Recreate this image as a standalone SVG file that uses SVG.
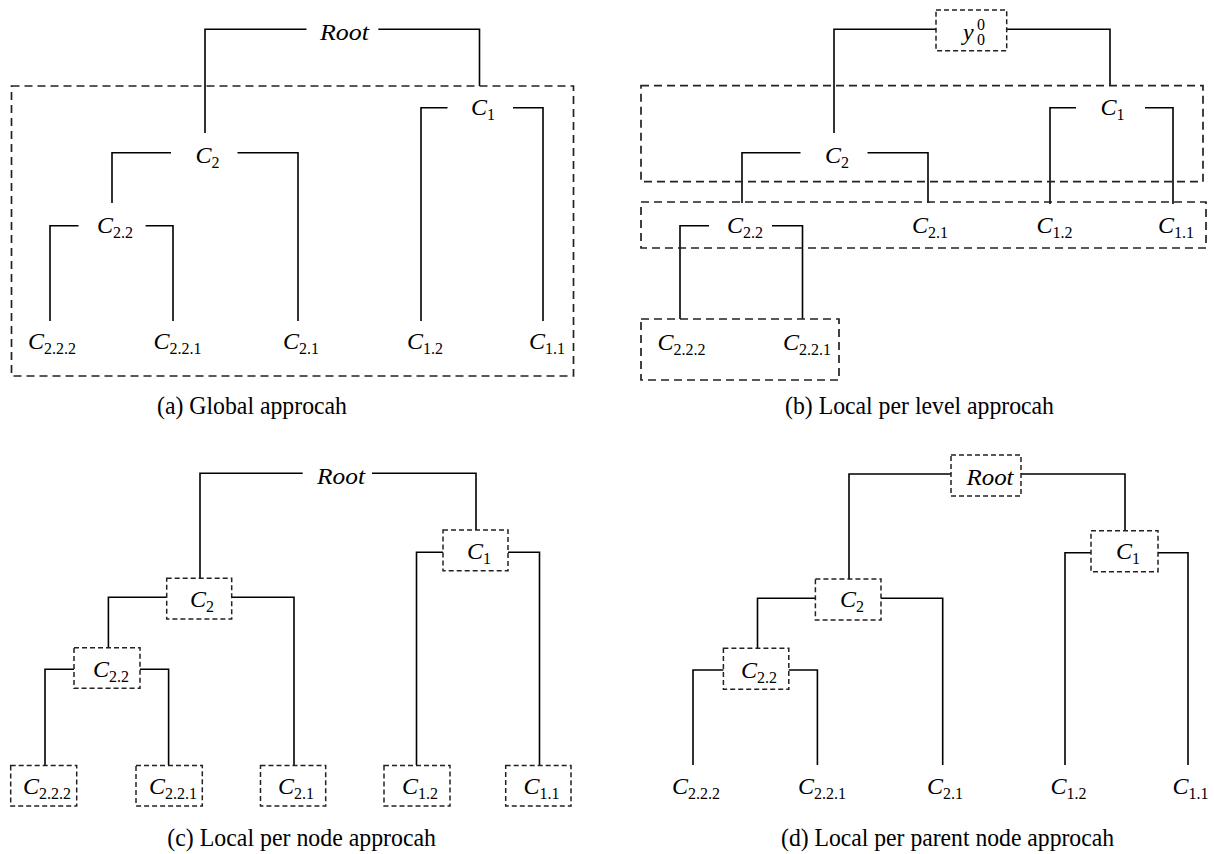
<svg xmlns="http://www.w3.org/2000/svg" width="1214" height="854" viewBox="0 0 1214 854">
<style>
.ln{stroke:#000;stroke-width:1.6;fill:none}
.bb{stroke:#222;stroke-width:1.7;stroke-dasharray:8 5;fill:none}
.nb{stroke:#222;stroke-width:1.5;stroke-dasharray:5 3;fill:none}
.m{font-family:"Liberation Serif",serif;font-size:24px;text-anchor:middle;fill:#000}
.i{font-style:italic}
.s{font-size:16px;font-style:normal}
.r{font-family:"Liberation Serif",serif;font-size:24px;font-style:italic;text-anchor:middle;fill:#000}
.cap{font-family:"Liberation Serif",serif;font-size:26px;text-anchor:middle;fill:#000}
</style>
<rect width="1214" height="854" fill="#fff"/>

<!-- Panel (a) -->
<g id="panel-a">
  <g id="a-connectors">
    <path class="ln" d="M205,133 V29.3 H306.5 M378.3,29.3 H479.5 V86"/>
    <path class="ln" d="M421,321 V107.7 H447.5 M513,107.7 H543 V321"/>
    <path class="ln" d="M112,203 V152.7 H171 M237.5,152.7 H298 V321"/>
    <path class="ln" d="M50,321 V225.7 H78.5 M145.6,225.7 H173 V321"/>
  </g>
  <g id="a-group"><rect class="bb" x="11.5" y="86" width="562" height="290"/></g>
  <g id="a-root"><text class="r" x="344.5" y="39.5" textLength="49" lengthAdjust="spacingAndGlyphs">Root</text></g>
  <g id="a-c1"><text class="m" x="483" y="115"><tspan class="i">C</tspan><tspan class="s" dy="5">1</tspan></text></g>
  <g id="a-c2"><text class="m" x="207.5" y="163"><tspan class="i">C</tspan><tspan class="s" dy="5">2</tspan></text></g>
  <g id="a-c22"><text class="m" x="115" y="233"><tspan class="i">C</tspan><tspan class="s" dy="5">2.2</tspan></text></g>
  <g id="a-c222"><text class="m" x="52" y="349"><tspan class="i">C</tspan><tspan class="s" dy="5">2.2.2</tspan></text></g>
  <g id="a-c221"><text class="m" x="177.5" y="349"><tspan class="i">C</tspan><tspan class="s" dy="5">2.2.1</tspan></text></g>
  <g id="a-c21"><text class="m" x="301" y="349"><tspan class="i">C</tspan><tspan class="s" dy="5">2.1</tspan></text></g>
  <g id="a-c12"><text class="m" x="425" y="349"><tspan class="i">C</tspan><tspan class="s" dy="5">1.2</tspan></text></g>
  <g id="a-c11"><text class="m" x="547" y="349"><tspan class="i">C</tspan><tspan class="s" dy="5">1.1</tspan></text></g>
  <text class="cap" x="252" y="414" textLength="190" lengthAdjust="spacingAndGlyphs">(a) Global approcah</text>
</g>

<!-- Panel (b) -->
<g id="panel-b">
  <g id="b-connectors">
    <path class="ln" d="M834,133 V29.3 H936 M1006.7,29.3 H1110 V85.7"/>
    <path class="ln" d="M1050,204 V107.7 H1076 M1145,107.7 H1173 V204"/>
    <path class="ln" d="M742,203 V152.7 H800.5 M867.5,152.7 H928 V203"/>
    <path class="ln" d="M680,319 V225.7 H709 M772,225.7 H802.5 V319"/>
  </g>
  <g id="b-level1"><rect class="bb" x="641" y="85.7" width="562" height="96"/></g>
  <g id="b-level2"><rect class="bb" x="641" y="202" width="565" height="46"/></g>
  <g id="b-level3"><rect class="bb" x="641" y="319" width="198" height="61"/></g>
  <g id="b-root">
    <rect class="nb" x="936" y="10" width="70.7" height="40.7"/>
    <text class="m" x="963" y="40" style="text-anchor:start"><tspan class="i">y</tspan><tspan class="s" x="977" y="29.5">0</tspan><tspan class="s" x="977" y="45">0</tspan></text>
  </g>
  <g id="b-c1"><text class="m" x="1112.5" y="115"><tspan class="i">C</tspan><tspan class="s" dy="5">1</tspan></text></g>
  <g id="b-c2"><text class="m" x="837" y="163"><tspan class="i">C</tspan><tspan class="s" dy="5">2</tspan></text></g>
  <g id="b-c22"><text class="m" x="745" y="233"><tspan class="i">C</tspan><tspan class="s" dy="5">2.2</tspan></text></g>
  <g id="b-c21"><text class="m" x="930" y="233"><tspan class="i">C</tspan><tspan class="s" dy="5">2.1</tspan></text></g>
  <g id="b-c12"><text class="m" x="1054.5" y="233"><tspan class="i">C</tspan><tspan class="s" dy="5">1.2</tspan></text></g>
  <g id="b-c11"><text class="m" x="1176" y="233"><tspan class="i">C</tspan><tspan class="s" dy="5">1.1</tspan></text></g>
  <g id="b-c222"><text class="m" x="681.5" y="350"><tspan class="i">C</tspan><tspan class="s" dy="5">2.2.2</tspan></text></g>
  <g id="b-c221"><text class="m" x="807" y="350"><tspan class="i">C</tspan><tspan class="s" dy="5">2.2.1</tspan></text></g>
  <text class="cap" x="919.5" y="414" textLength="269" lengthAdjust="spacingAndGlyphs">(b) Local per level approcah</text>
</g>

<!-- Panel (c) -->
<g id="panel-c">
  <g id="c-connectors">
    <path class="ln" d="M200,578.3 V473.3 H302.7 M372,473.3 H476 V530"/>
    <path class="ln" d="M416.5,765 V552.3 H443 M508,552.3 H539.5 V765"/>
    <path class="ln" d="M108.4,647.7 V597.3 H166.7 M231.8,597.3 H294 V765"/>
    <path class="ln" d="M45,765 V669.3 H74 M140,669.3 H168.6 V765"/>
  </g>
  <g id="c-root"><text class="r" x="341" y="483.5" textLength="48" lengthAdjust="spacingAndGlyphs">Root</text></g>
  <g id="c-c1"><rect class="nb" x="443" y="530" width="65" height="40.7"/><text class="m" x="479" y="559"><tspan class="i">C</tspan><tspan class="s" dy="5">1</tspan></text></g>
  <g id="c-c2"><rect class="nb" x="166.7" y="578.3" width="65" height="40.7"/><text class="m" x="202" y="606.5"><tspan class="i">C</tspan><tspan class="s" dy="5">2</tspan></text></g>
  <g id="c-c22"><rect class="nb" x="74" y="647.7" width="66" height="40.6"/><text class="m" x="111" y="677"><tspan class="i">C</tspan><tspan class="s" dy="5">2.2</tspan></text></g>
  <g id="c-c222"><rect class="nb" x="10.7" y="765.5" width="66" height="40.5"/><text class="m" x="47" y="794"><tspan class="i">C</tspan><tspan class="s" dy="5">2.2.2</tspan></text></g>
  <g id="c-c221"><rect class="nb" x="136" y="765.5" width="66.3" height="40.5"/><text class="m" x="173" y="794"><tspan class="i">C</tspan><tspan class="s" dy="5">2.2.1</tspan></text></g>
  <g id="c-c21"><rect class="nb" x="260.5" y="765.5" width="65.2" height="40.5"/><text class="m" x="296" y="794"><tspan class="i">C</tspan><tspan class="s" dy="5">2.1</tspan></text></g>
  <g id="c-c12"><rect class="nb" x="384" y="765.5" width="66" height="40.5"/><text class="m" x="420" y="794"><tspan class="i">C</tspan><tspan class="s" dy="5">1.2</tspan></text></g>
  <g id="c-c11"><rect class="nb" x="505.7" y="765.5" width="65.3" height="40.5"/><text class="m" x="541.5" y="794"><tspan class="i">C</tspan><tspan class="s" dy="5">1.1</tspan></text></g>
  <text class="cap" x="301.7" y="846" textLength="268.7" lengthAdjust="spacingAndGlyphs">(c) Local per node approcah</text>
</g>

<!-- Panel (d) -->
<g id="panel-d">
  <g id="d-connectors">
    <path class="ln" d="M849,579 V474 H951 M1021,474 H1125 V530.7"/>
    <path class="ln" d="M1065,765 V552.7 H1091 M1158,552.7 H1188 V765"/>
    <path class="ln" d="M757.5,648.3 V598.3 H815.4 M881,598.3 H942.7 V765"/>
    <path class="ln" d="M693,765 V670 H723.4 M788.8,670 H817.4 V765"/>
  </g>
  <g id="d-root"><rect class="nb" x="951" y="455" width="70" height="41"/><text class="r" x="990" y="485" textLength="47" lengthAdjust="spacingAndGlyphs">Root</text></g>
  <g id="d-c1"><rect class="nb" x="1091" y="530.7" width="67" height="41"/><text class="m" x="1128" y="559"><tspan class="i">C</tspan><tspan class="s" dy="5">1</tspan></text></g>
  <g id="d-c2"><rect class="nb" x="815.4" y="579" width="65.6" height="41"/><text class="m" x="852" y="607"><tspan class="i">C</tspan><tspan class="s" dy="5">2</tspan></text></g>
  <g id="d-c22"><rect class="nb" x="723.4" y="648.3" width="65.4" height="41"/><text class="m" x="759" y="678"><tspan class="i">C</tspan><tspan class="s" dy="5">2.2</tspan></text></g>
  <g id="d-c222"><text class="m" x="696" y="794"><tspan class="i">C</tspan><tspan class="s" dy="5">2.2.2</tspan></text></g>
  <g id="d-c221"><text class="m" x="822" y="794"><tspan class="i">C</tspan><tspan class="s" dy="5">2.2.1</tspan></text></g>
  <g id="d-c21"><text class="m" x="945" y="794"><tspan class="i">C</tspan><tspan class="s" dy="5">2.1</tspan></text></g>
  <g id="d-c12"><text class="m" x="1068.5" y="794"><tspan class="i">C</tspan><tspan class="s" dy="5">1.2</tspan></text></g>
  <g id="d-c11"><text class="m" x="1190.5" y="794"><tspan class="i">C</tspan><tspan class="s" dy="5">1.1</tspan></text></g>
  <text class="cap" x="947.5" y="846" textLength="333" lengthAdjust="spacingAndGlyphs">(d) Local per parent node approcah</text>
</g>
</svg>
